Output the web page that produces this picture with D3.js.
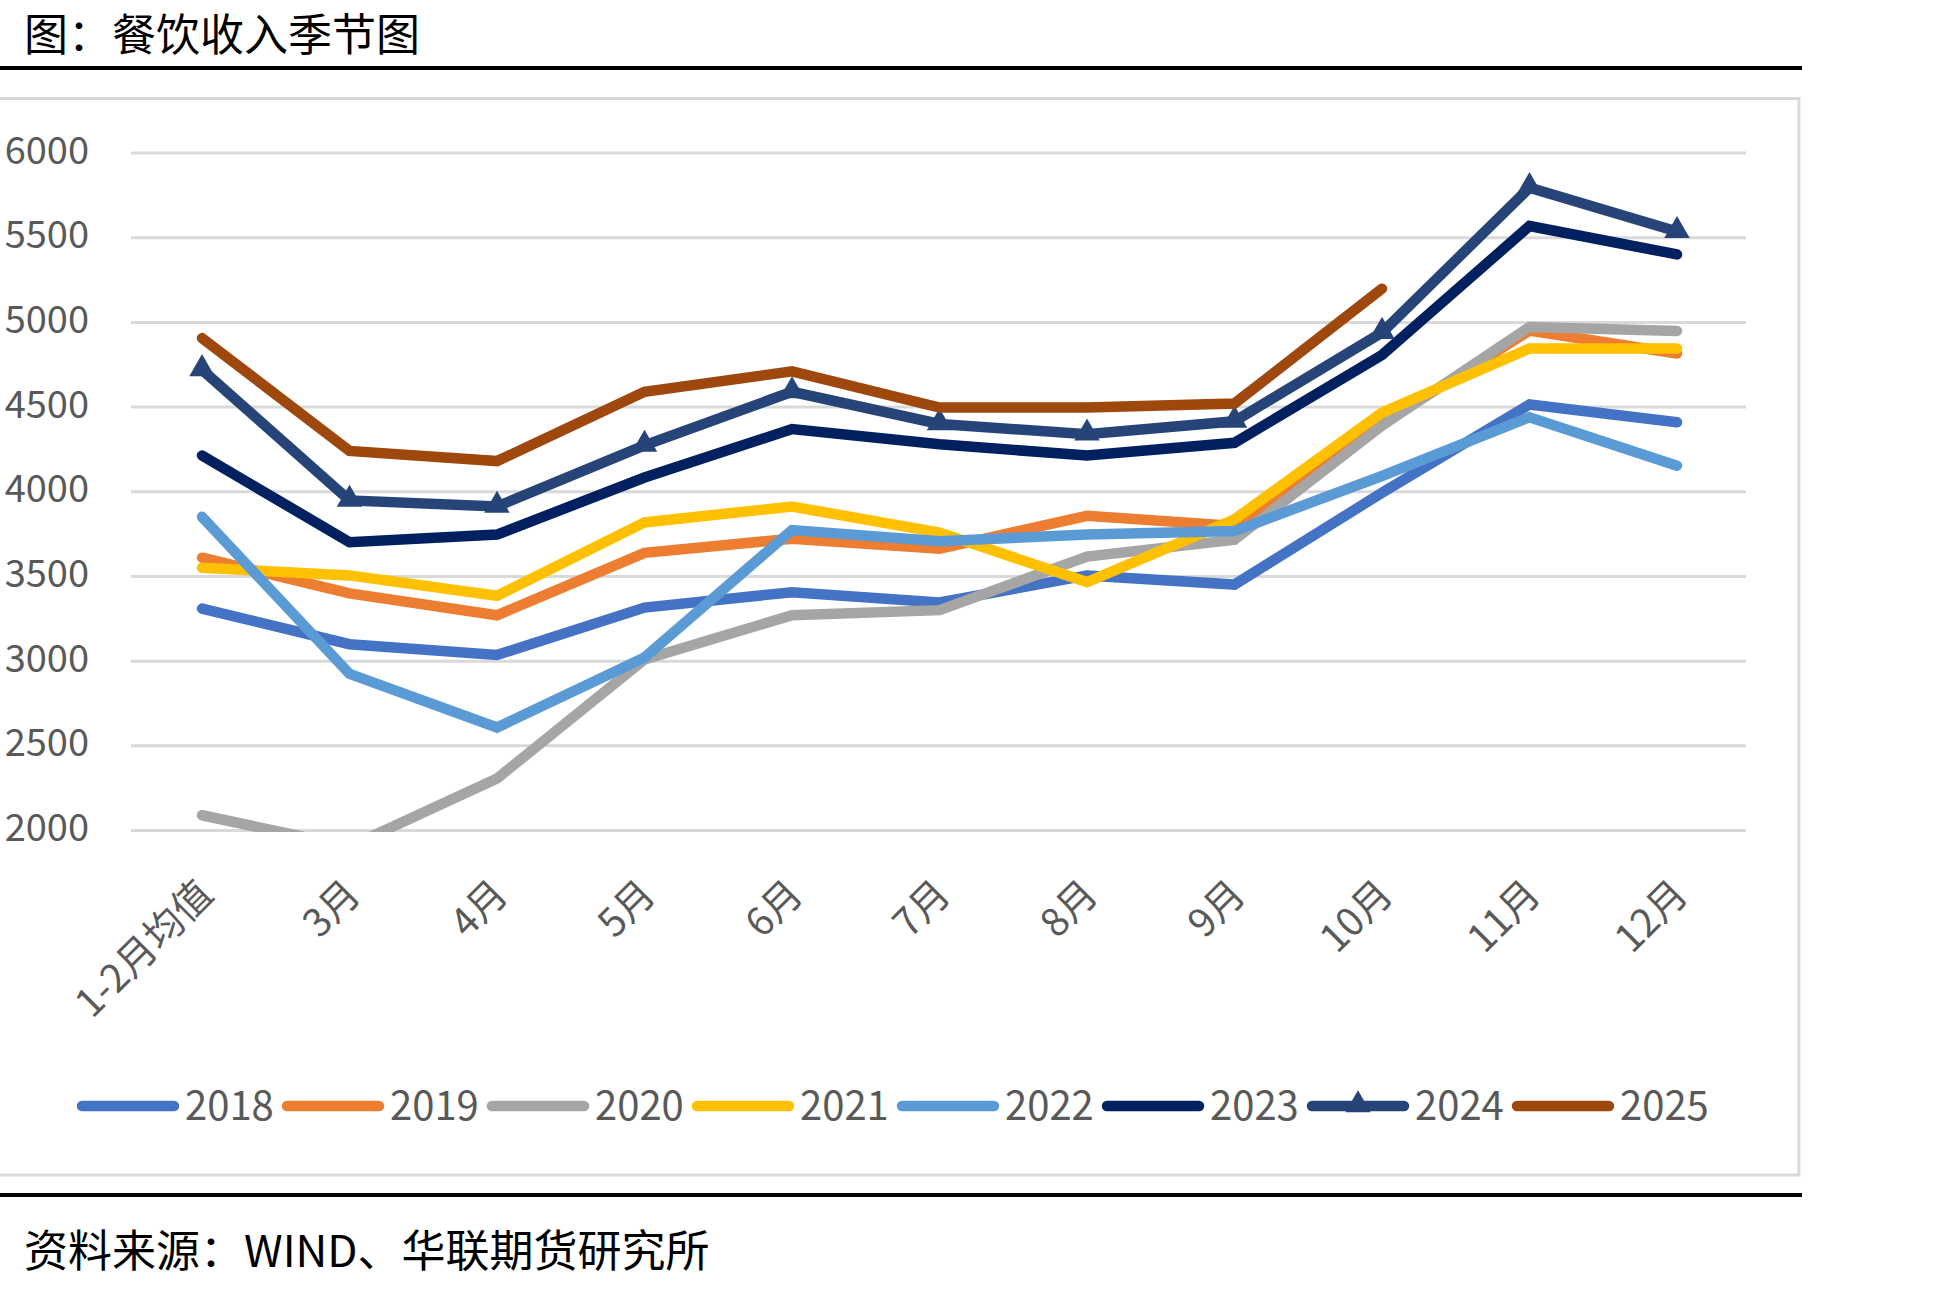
<!DOCTYPE html>
<html>
<head>
<meta charset="utf-8">
<script src="https://cdn.jsdelivr.net/npm/d3@7"></script>
<style>
  body { margin: 0; background: #fff; }
  svg { display: block; }
  text { font-family: "Noto Sans CJK SC", "Noto Sans", sans-serif; }
</style>
</head>
<body>
<div id="chart"></div>
<script>
// DATA
const months = ["1-2月均值", "3月", "4月", "5月", "6月", "7月", "8月", "9月", "10月", "11月", "12月"];
const years = ["2018", "2019", "2020", "2021", "2022", "2023", "2024", "2025"];
const yTicks = [2000, 2500, 3000, 3500, 4000, 4500, 5000, 5500, 6000];

const v2018 = [3310, 3100, 3036, 3316, 3407, 3346, 3506, 3452, 3994, 4515, 4410];
const v2019 = [3611, 3400, 3271, 3639, 3723, 3663, 3858, 3798, 4400, 4952, 4816];
const v2020 = [2090, 1905, 2307, 3010, 3271, 3301, 3617, 3717, 4390, 4973, 4949];
const v2021 = [3551, 3506, 3386, 3819, 3913, 3759, 3467, 3837, 4467, 4846, 4846];
const v2022 = [3852, 2925, 2608, 3021, 3774, 3708, 3747, 3768, 4093, 4440, 4154];
const v2023 = [4214, 3702, 3747, 4084, 4370, 4280, 4214, 4289, 4807, 5569, 5401];
const v2024 = [4720, 3949, 3913, 4274, 4590, 4400, 4340, 4416, 4940, 5795, 5536];
const v2025 = [4907, 4241, 4181, 4590, 4711, 4497, 4497, 4521, 5199, null, null];

const colors = ["#4472C4", "#ED7D31", "#A5A5A5", "#FFC000", "#5B9BD5", "#002060", "#264478", "#9E480E"];

const series = [v2018, v2019, v2020, v2021, v2022, v2023, v2024, v2025].map((v, i) => ({
  name: years[i], values: v, color: colors[i], marker: years[i] === "2024"
}));

// LAYOUT
const W = 1954, H = 1289;
const boxRight = 1800;

const svg = d3.select("#chart").append("svg")
  .attr("width", W).attr("height", H);

// title + rules
svg.append("text")
  .attr("x", 24).attr("y", 51)
  .attr("font-size", 44).attr("fill", "#000")
  .text("图：餐饮收入季节图");

svg.append("line")
  .attr("x1", 0).attr("x2", boxRight + 2).attr("y1", 68).attr("y2", 68)
  .attr("stroke", "#000").attr("stroke-width", 4);

// chart frame
svg.append("rect")
  .attr("x", -2).attr("y", 98.5).attr("width", boxRight + 1).attr("height", 1175 - 98.5)
  .attr("fill", "#fff").attr("stroke", "#D9D9D9").attr("stroke-width", 3);

svg.append("line")
  .attr("x1", 0).attr("x2", boxRight + 2).attr("y1", 1195).attr("y2", 1195)
  .attr("stroke", "#000").attr("stroke-width", 4);

svg.append("text")
  .attr("x", 24).attr("y", 1267)
  .attr("font-size", 44).attr("fill", "#000")
  .text("资料来源：WIND、华联期货研究所");

// SCALES
const x = d3.scalePoint().domain(months).range([202, 1677]);
const y = d3.scaleLinear().domain([2000, 6000]).range([830.5, 153]);
const gridX0 = 131, gridX1 = 1746;

// grid
svg.append("g").selectAll("line")
  .data(yTicks).join("line")
  .attr("x1", gridX0).attr("x2", gridX1)
  .attr("y1", d => y(d)).attr("y2", d => y(d))
  .attr("stroke", "#D9D9D9").attr("stroke-width", 3);

// y axis labels
const yAxis = svg.append("g")
  .attr("transform", "translate(89,-2)")
  .call(d3.axisLeft(y).tickValues(yTicks).tickSize(0).tickPadding(0).tickFormat(d3.format("d")));
yAxis.select(".domain").remove();
yAxis.selectAll("text")
  .attr("font-size", 38).attr("fill", "#595959")
  .attr("font-family", "\"Noto Sans CJK SC\", sans-serif");

// x axis labels
const xAxis = svg.append("g")
  .attr("transform", "translate(0,887)")
  .call(d3.axisBottom(x).tickSize(0).tickPadding(0));
xAxis.select(".domain").remove();
xAxis.selectAll("text")
  .attr("font-size", 39).attr("fill", "#595959")
  .attr("font-family", "\"Noto Sans CJK SC\", sans-serif")
  .attr("x", 0).attr("y", 0).attr("dy", "0.35em")
  .attr("text-anchor", "end")
  .attr("transform", "translate(3,0) rotate(-45)");

// clip at the bottom of plot area
svg.append("clipPath").attr("id", "plotclip")
  .append("rect").attr("x", 100).attr("y", 100).attr("width", 1680).attr("height", y(2000) + 1.5 - 100);

const line = d3.line()
  .defined(d => d != null)
  .x((d, i) => x(months[i]))
  .y(d => y(d));

const plot = svg.append("g").attr("clip-path", "url(#plotclip)");
const lineW = 10.5;

series.forEach(s => {
  plot.append("path")
    .datum(s.values)
    .attr("d", line)
    .attr("fill", "none")
    .attr("stroke", s.color)
    .attr("stroke-width", lineW)
    .attr("stroke-linecap", "round")
    .attr("stroke-linejoin", "miter");
  if (s.marker) {
    plot.selectAll(null)
      .data(s.values.filter(d => d != null))
      .join("path")
      .attr("d", d3.symbol(d3.symbolTriangle, 280))
      .attr("transform", (d, i) => "translate(" + x(months[i]) + "," + (y(d) - 1) + ")")
      .attr("fill", s.color);
  }
});

// LEGEND
const legend = svg.append("g").attr("transform", "translate(0,1106)");
const item = legend.selectAll("g")
  .data(series).join("g")
  .attr("transform", (d, i) => "translate(" + (77 + i * 205) + ",0)");
item.append("line")
  .attr("x1", 5).attr("x2", 97).attr("y1", 0).attr("y2", 0)
  .attr("stroke", d => d.color).attr("stroke-width", lineW)
  .attr("stroke-linecap", "round");
item.filter(d => d.marker).append("path")
  .attr("d", d3.symbol(d3.symbolTriangle, 280))
  .attr("transform", "translate(51,-1)")
  .attr("fill", d => d.color);
item.append("text")
  .attr("x", 108).attr("y", 0).attr("dy", "0.35em")
  .attr("font-size", 40).attr("fill", "#595959")
  .text(d => d.name);
</script>
</body>
</html>
